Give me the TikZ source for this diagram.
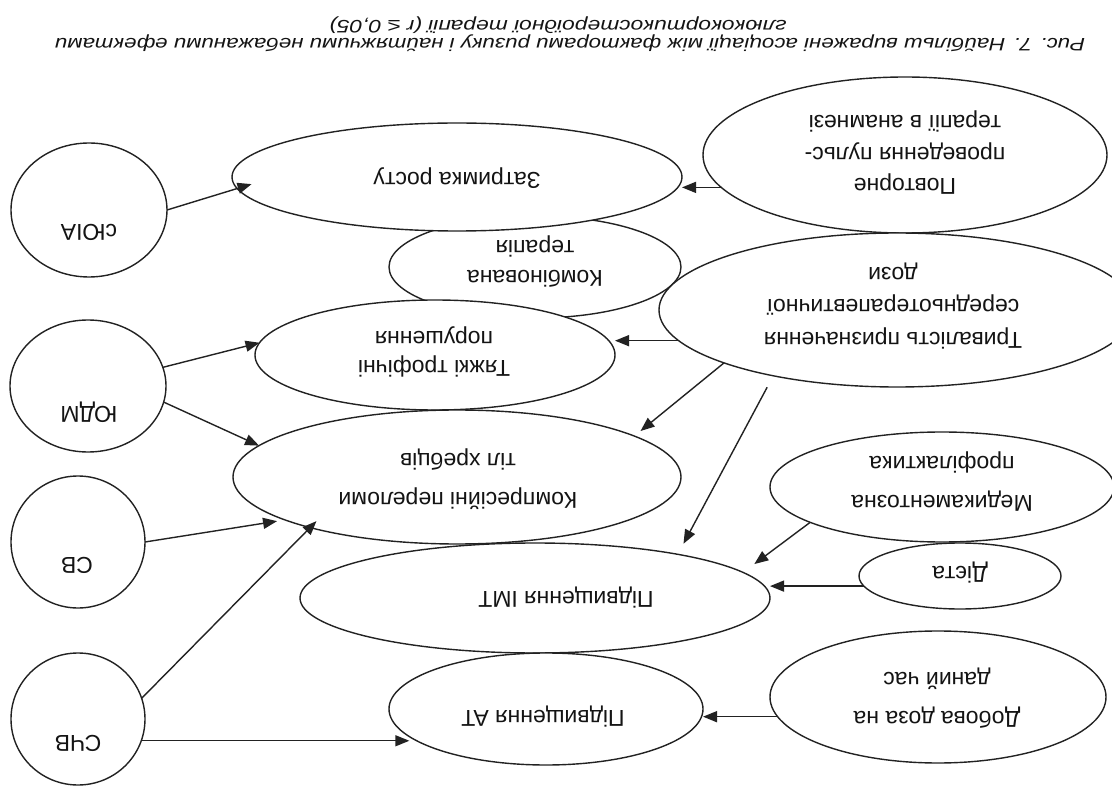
\documentclass[tikz,border=0pt]{standalone}
\usepackage{graphicx}
\usepackage{fontspec}
\setmainfont{Liberation Sans}
\usetikzlibrary{shapes.geometric,arrows.meta}
\definecolor{ln}{HTML}{222222}
\definecolor{tx}{HTML}{141414}
\begin{document}
\begin{tikzpicture}[x=1pt,y=-1pt,
  ell/.style={ellipse,draw=ln,line width=1.4pt,fill=white,inner sep=0pt,outer sep=0pt},
  lbl/.style={rotate=180,text=tx,font=\fontsize{23}{32}\selectfont,align=center,inner sep=0pt},
  wide/.style={lbl,font=\fontsize{23}{39}\selectfont},
  captext/.style={rotate=180,text=tx,inner sep=0pt},
  arr/.style={draw=ln,line width=1.4pt,-{Triangle[length=14pt,width=11pt]}}]

\useasboundingbox (0,0) rectangle (1112,786);
\clip (0,0) rectangle (1112,786);
\fill[white] (0,0) rectangle (1112,786);

% shapes
\node[ell,minimum width=292pt,minimum height=102pt] (komb) at (535,267) {};
\node[ell,minimum width=450pt,minimum height=108pt] (zat) at (457,177) {};
\node[ell,minimum width=360pt,minimum height=110pt] (tyazh) at (435,355) {};
\node[ell,minimum width=404pt,minimum height=156pt] (povt) at (905,155) {};
\node[ell,minimum width=476pt,minimum height=154pt] (tryv) at (897,310) {};
\node[ell,minimum width=448pt,minimum height=134pt] (kompr) at (457,477) {};
\node[ell,minimum width=344pt,minimum height=110pt] (med) at (942,487) {};
\node[ell,minimum width=470pt,minimum height=110pt] (imt) at (535,598) {};
\node[ell,minimum width=202pt,minimum height=66pt] (dieta) at (960,576) {};
\node[ell,minimum width=336pt,minimum height=132pt] (dob) at (938,697) {};
\node[ell,minimum width=314pt,minimum height=112pt] (atn) at (546,709) {};
\node[ell,minimum width=156pt,minimum height=134pt] (yuia) at (89,210) {};
\node[ell,minimum width=156pt,minimum height=132pt] (yudm) at (88,386) {};
\node[ell,minimum width=134pt,minimum height=132pt] (sv) at (78,542) {};
\node[ell,minimum width=134pt,minimum height=132pt] (schv) at (78,719) {};

% labels
\node[lbl] (t-yuia) at (89,232) {сЮІА};
\node[lbl] (t-yudm) at (89,412) {ЮДМ};
\node[lbl] (t-sv) at (77,565) {СВ};
\node[lbl] (t-schv) at (78,743) {СЧВ};
\node[lbl] (t-zat) at (457,178) {Затримка росту};
\node[lbl,font=\fontsize{23}{30}\selectfont] (t-komb) at (535,262) {Комбінована\\терапія};
\node[lbl,font=\fontsize{23}{29}\selectfont] (t-tyazh) at (434,352) {Тяжкі трофічні\\порушення};
\node[lbl,font=\fontsize{23}{31.5}\selectfont] (t-povt) at (905,153) {Повторне\\проведення пульс-\\терапії в анамнезі};
\node[lbl,font=\fontsize{23}{32.5}\selectfont] (t-tryv) at (893,306) {Тривалість призначення\\середньотерапевтичної\\дози};
\node[wide] (t-kompr) at (458,479) {Компресійні переломи\\тіл хребців};
\node[wide] (t-med) at (942,482) {Медикаментозна\\профілактика};
\node[lbl] (t-imt) at (566,598) {Підвищення ІМТ};
\node[lbl] (t-dieta) at (960,573) {Дієта};
\node[wide] (t-dob) at (937,698) {Добова доза на\\даний час};
\node[lbl] (t-at) at (543,717) {Підвищення АТ};

% caption
\node[captext] (cap1) at (570,43) {\resizebox{1030pt}{\height}{\fontsize{18}{19}\selectfont\itshape Рис. 7. Найбільш виражені асоціації між факторами ризику і найтяжчими небажаними ефектами}};
\node[captext] (cap2) at (558,25) {\resizebox{457pt}{\height}{\fontsize{18}{19}\selectfont\itshape глюкокортикостероїдної терапії (r ≤ 0,05)}};

% connectors
\draw[arr,shorten >=-15pt] (yuia.0.7) -- (zat.183.85);
\draw[arr] (povt.190.4) -- (povt.190.4 -| zat.east);
\draw[arr] (tryv.188.6) -- (tryv.188.6 -| tyazh.east);
\draw[arr,shorten >=8pt] (tryv.197.7) -- (kompr.13.7);
\draw[arr,shorten <=13pt,shorten >=12pt] (tryv.208.9) -- (imt.17.9);
\draw[arr] (yudm.14.7) -- (tyazh.176.8);
\draw[arr] (yudm.348.7) -- (kompr.171.6);
\draw[arr,shorten >=8pt] (sv.east) -- (kompr.194);
\draw[arr,shorten >=-9pt] (schv.18.2) -- (kompr.199.9);
\draw[arr,shorten >=8pt] (schv.341.1) -- (atn.194.1 |- schv.341.1);
\draw[arr] (dob.187.8) -- (dob.187.8 -| atn.east);
\draw[arr] (dieta.186.2) -- (dieta.186.2 -| imt.east);
\draw[arr,shorten >=14pt] (med.195.3) -- (imt.7.7);
\end{tikzpicture}
\end{document}
